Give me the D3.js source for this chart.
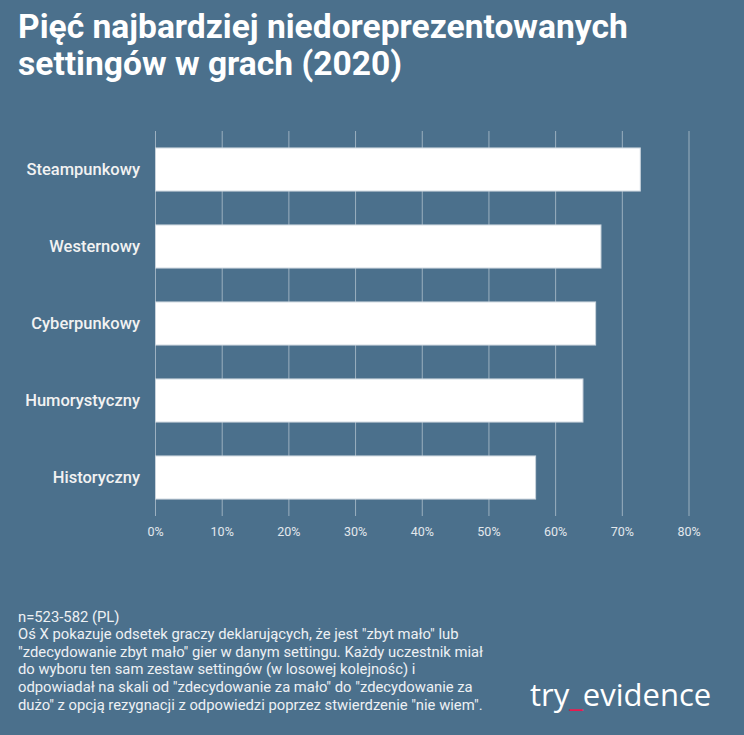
<!DOCTYPE html>
<html><head><meta charset="utf-8">
<script src="https://cdn.jsdelivr.net/npm/d3@7"></script>
<style>html,body{margin:0;padding:0;background:#4b708c;}svg{display:block;}</style>
</head><body>
<svg id="c" width="744" height="735"></svg>
<script>
const categories = ["Steampunkowy","Westernowy","Cyberpunkowy","Humorystyczny","Historyczny"];
const values = [72.7, 66.8, 66.0, 64.1, 57.0];
const tickValues = [0,10,20,30,40,50,60,70,80];
const titleLines = ["Pięć najbardziej niedoreprezentowanych","settingów w grach (2020)"];
const noteLines = [
 "n=523-582 (PL)",
 "Oś X pokazuje odsetek graczy deklarujących, że jest \"zbyt mało\" lub",
 "\"zdecydowanie zbyt mało\" gier w danym settingu. Każdy uczestnik miał",
 "do wyboru ten sam zestaw settingów (w losowej kolejnośc) i",
 "odpowiadał na skali od \"zdecydowanie za mało\" do \"zdecydowanie za",
 "dużo\" z opcją rezygnacji z odpowiedzi poprzez stwierdzenie \"nie wiem\"."
];

const svg = d3.select("#c");
svg.append("rect").attr("width",744).attr("height",735).attr("fill","#4b708c");

// title (condensed look via uniform horizontal scale)
const tg = svg.append("g");
const tt = tg.selectAll("text").data(titleLines).join("text")
  .attr("x",0).attr("y",(d,i)=>38+i*37.5)
  .attr("font-family","Roboto, sans-serif").attr("font-weight",700).attr("font-size",33)
  .attr("fill","#ffffff").text(d=>d);
const w1 = tt.nodes()[0].getComputedTextLength();
const k = 610 / w1;
tg.attr("transform",`translate(18,0) scale(${k},1)`);

const x = d3.scaleLinear().domain([0,80]).range([155.5,689]);
const y = d3.scaleBand().domain(categories).range([131,516]).paddingInner(0.44).paddingOuter(0.22);

// gridlines
svg.append("g").selectAll("line").data(tickValues).join("line")
  .attr("x1",d=>x(d)).attr("x2",d=>x(d)).attr("y1",131).attr("y2",516)
  .attr("stroke","rgba(255,255,255,0.45)").attr("stroke-width",1);

// bars
svg.append("g").selectAll("rect").data(categories).join("rect")
  .attr("x",x(0)).attr("y",d=>y(d))
  .attr("width",(d,i)=>x(values[i])-x(0)).attr("height",y.bandwidth())
  .attr("fill","#ffffff").attr("stroke","#c9d3dc").attr("stroke-width",1);

// category labels
svg.append("g").selectAll("text").data(categories).join("text")
  .attr("x",140).attr("y",d=>y(d)+y.bandwidth()/2).attr("dy","0.35em")
  .attr("text-anchor","end")
  .attr("font-family","Roboto, sans-serif").attr("font-weight",500).attr("font-size",16.5)
  .attr("fill","#f2f2f2").text(d=>d);

// x axis labels
svg.append("g").selectAll("text").data(tickValues).join("text")
  .attr("x",d=>x(d)).attr("y",532).attr("dy","0.35em").attr("text-anchor","middle")
  .attr("font-family","Roboto, sans-serif").attr("font-size",12.5)
  .attr("fill","#e3e8ec").text(d=>d+"%");

// note
svg.append("g").selectAll("text").data(noteLines).join("text")
  .attr("x",18).attr("y",(d,i)=>621.5+i*17.6)
  .attr("font-family","Roboto, sans-serif").attr("font-size",14.8)
  .attr("fill","#eef1f4").text(d=>d);

// logo
const logo = svg.append("text").attr("x",530).attr("y",706)
  .attr("font-family","'Open Sans', sans-serif").attr("font-size",31).attr("fill","#ffffff");
logo.append("tspan").text("try");
logo.append("tspan").attr("fill","#e8194f").text("_");
logo.append("tspan").text("evidence");
</script>
</body></html>
